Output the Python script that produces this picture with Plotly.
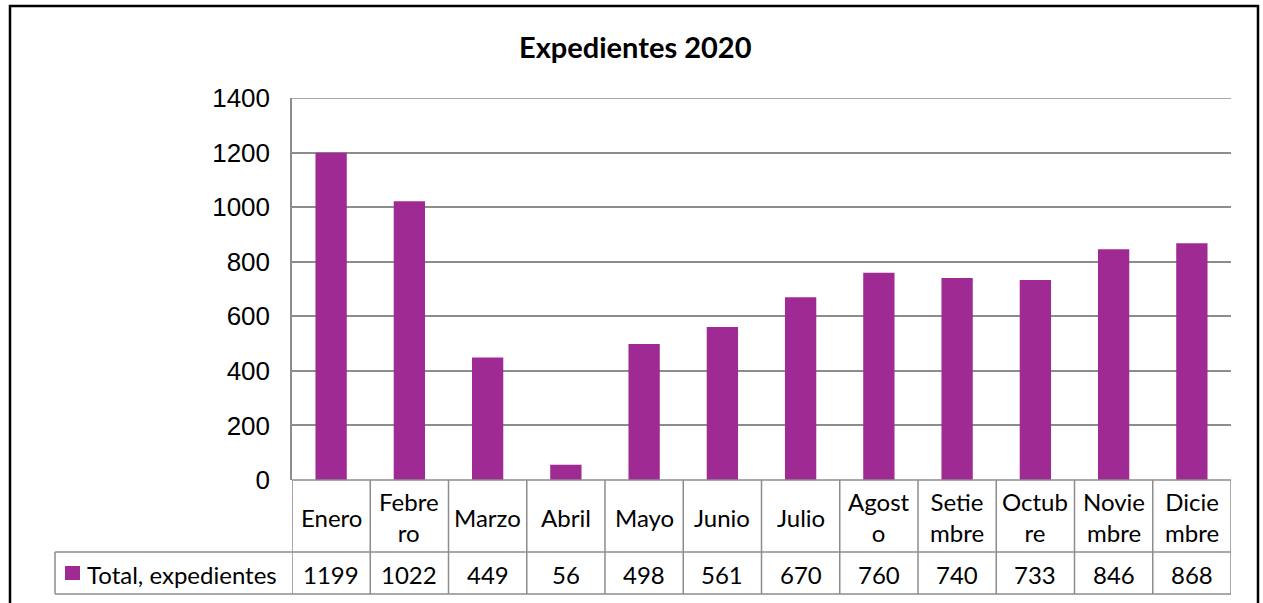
import plotly.graph_objects as go

W, H = 1263, 603
months = ["Enero", "Febrero", "Marzo", "Abril", "Mayo", "Junio", "Julio",
          "Agosto", "Setiembre", "Octubre", "Noviembre", "Diciembre"]
month_labels = ["Enero", "Febre<br>ro", "Marzo", "Abril", "Mayo", "Junio", "Julio",
                "Agost<br>o", "Setie<br>mbre", "Octub<br>re", "Novie<br>mbre", "Dicie<br>mbre"]
values = [1199, 1022, 449, 56, 498, 561, 670, 760, 740, 733, 846, 868]
series_name = "Total, expedientes"
title = "Expedientes 2020"
y_ticks = [0, 200, 400, 600, 800, 1000, 1200, 1400]

BAR = "#A02A93"
GRID = "#8C8C8C"
FONT_T = "Lato"
TS = 24

def px(x):
    return x / W

def py(y):
    return 1 - y / H

PL, PR, PT, PB = 292, 1231, 98, 480
ROW1, ROW2 = 552, 594
LEG_L = 55

idx = list(range(len(months)))
fig = go.Figure()
fig.add_trace(go.Bar(x=idx, y=values, marker_color=BAR, name=series_name,
                     showlegend=False, hoverinfo="skip"))

shapes = []
annotations = []
# outer chart border
shapes.append(dict(type="rect", xref="paper", yref="paper", x0=px(10), x1=px(1258),
                   y0=py(615), y1=py(6), line=dict(color="black", width=2.5)))
# top gridline (at the axis maximum)
shapes.append(dict(type="line", xref="paper", yref="y", x0=px(PL), x1=px(PR),
                   y0=y_ticks[-1], y1=y_ticks[-1], line=dict(color=GRID, width=1.5),
                   layer="below"))
# data table lines
n = len(months)
for k in range(n + 1):
    shapes.append(dict(type="line", xref="x", yref="paper", x0=k - 0.5, x1=k - 0.5,
                       y0=py(ROW2), y1=py(PB), line=dict(color=GRID, width=1.5)))
for yy, x0 in [(PB, PL), (ROW1, LEG_L), (ROW2, LEG_L)]:
    shapes.append(dict(type="line", xref="paper", yref="paper", x0=px(x0), x1=px(PR),
                       y0=py(yy), y1=py(yy), line=dict(color=GRID, width=1.5)))
shapes.append(dict(type="line", xref="paper", yref="paper", x0=px(LEG_L), x1=px(LEG_L),
                   y0=py(ROW2), y1=py(ROW1), line=dict(color=GRID, width=1.5)))
# legend key
shapes.append(dict(type="rect", xref="paper", yref="paper", x0=px(65), x1=px(80),
                   y0=py(580), y1=py(566), fillcolor=BAR, line=dict(width=0)))

for i, (lab, v) in enumerate(zip(month_labels, values)):
    annotations.append(dict(x=i, y=py((PB + ROW1) / 2 + 1), xref="x", yref="paper",
                            xanchor="center", yanchor="middle",
                            text=lab, showarrow=False, align="center",
                            font=dict(family=FONT_T, size=TS, color="black")))
    annotations.append(dict(x=i, y=py((ROW1 + ROW2) / 2 + 1), xref="x", yref="paper",
                            xanchor="center", yanchor="middle",
                            text=str(v), showarrow=False,
                            font=dict(family=FONT_T, size=TS, color="black")))
annotations.append(dict(x=px(85), y=py((ROW1 + ROW2) / 2 + 1), xref="paper", yref="paper",
                        xanchor="left", yanchor="middle", text=series_name, showarrow=False,
                        font=dict(family=FONT_T, size=TS, color="black")))
annotations.append(dict(x=px(635), y=py(47), xref="paper", yref="paper",
                        xanchor="center", yanchor="middle",
                        text="<b>" + title + "</b>", showarrow=False,
                        font=dict(family=FONT_T, size=29, color="black")))

fig.update_layout(
    template="none",
    width=W, height=H, margin=dict(l=0, r=0, t=0, b=0, pad=0, autoexpand=False),
    paper_bgcolor="white", plot_bgcolor="white",
    bargap=0.6,
    xaxis=dict(domain=[px(PL), px(PR)], range=[-0.5, n - 0.5], showticklabels=False,
               showgrid=False, zeroline=False, showline=False, fixedrange=True,
               automargin=False),
    yaxis=dict(domain=[py(PB), py(PT)], range=[0, 1400], tickvals=y_ticks,
               showgrid=True, gridcolor=GRID, gridwidth=1.5, zeroline=False,
               showline=True, linecolor=GRID, linewidth=1.5, automargin=False,
               ticks="", ticklabelstandoff=15, fixedrange=True,
               tickfont=dict(family="Liberation Sans", size=26, color="black")),
    shapes=shapes, annotations=annotations,
)
fig.write_html("out.html", config={"displayModeBar": False},
               post_script="document.body.style.margin='0';document.body.style.overflow='hidden';")
